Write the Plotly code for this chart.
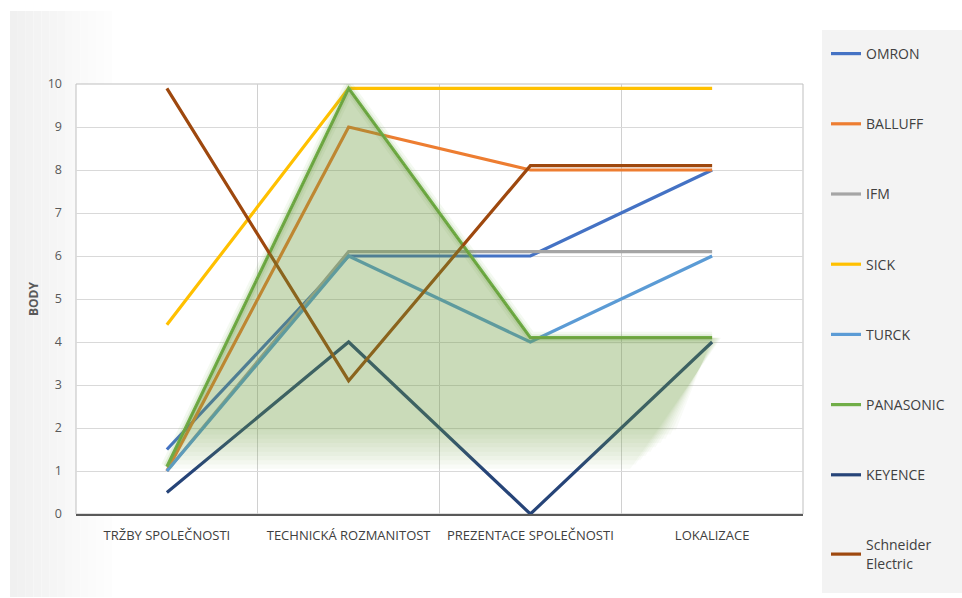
import plotly.graph_objects as go

# ---------------- data ----------------
categories = ["TRŽBY SPOLEČNOSTI", "TECHNICKÁ ROZMANITOST", "PREZENTACE SPOLEČNOSTI", "LOKALIZACE"]
omron = [1.5, 6, 6, 8]
balluff = [1, 9, 8, 8]
ifm = [1, 6.1, 6.1, 6.1]
sick = [4.4, 9.9, 9.9, 9.9]
turck = [1, 6, 4, 6]
panasonic = [1.1, 9.9, 4.1, 4.1]
keyence = [0.5, 4, 0, 4]
schneider = [9.9, 3.1, 8.1, 8.1]
series_names = ["OMRON", "BALLUFF", "IFM", "SICK", "TURCK", "PANASONIC", "KEYENCE", "Schneider<br>Electric"]
series_values = [omron, balluff, ifm, sick, turck, panasonic, keyence, schneider]
series_colors = ["#4472C4", "#ED7D31", "#A5A5A5", "#FFC000", "#5B9BD5", "#70AD47", "#264478", "#9E480E"]
y_ticks = list(range(0, 11))

xpos = list(range(len(categories)))

# ---------------- geometry helpers (layout only) ----------------
W, H = 962, 598
PL, PR, PT, PB = 76, 803, 84, 514


def px_x(px):
    return (px - PL) / (PR - PL)


def px_y(py):
    return (PB - py) / (PB - PT)


fig = go.Figure()

# lines
for name, vals, col in zip(series_names, series_values, series_colors):
    if name == "PANASONIC":
        for w, a in [(12, 0.08), (7, 0.14)]:
            fig.add_trace(go.Scatter(x=xpos, y=vals, mode="lines",
                                     line=dict(color=f"rgba(112,173,71,{a})", width=w),
                                     showlegend=False, hoverinfo="skip"))
    fig.add_trace(go.Scatter(x=xpos, y=vals, mode="lines", name=name,
                             legendgroup=name,
                             line=dict(color=col, width=3.2)))

# soft green area under the PANASONIC line (soft-edge glow effect)
N = 10
p = panasonic
for k in range(N):
    s = k / (N - 1)
    floor = 1.95 - 0.9 * s
    right_bottom = 2.8 - 0.25 * s
    right_top = xpos[-1] + 0.05 * s
    t = (floor - p[0]) / (p[1] - p[0])
    xs = [t] + xpos[1:-1] + [right_top, right_bottom, t]
    ys = [floor] + p[1:-1] + [p[-1], floor, floor]
    fig.add_trace(go.Scatter(x=xs, y=ys, mode="lines", fill="toself",
                             fillcolor="rgba(112,173,71,0.045)",
                             line=dict(width=0, color="rgba(0,0,0,0)"),
                             showlegend=False, hoverinfo="skip"))

shapes = []
# left gray gradient of the chart panel
n = 14
x0, x1 = 10, 120
for i in range(n):
    g = int(240 + (255 - 240) * i / (n - 1))
    shapes.append(dict(type="rect", xref="paper", yref="paper", layer="below",
                       x0=px_x(x0 + (x1 - x0) * i / n), x1=px_x(x0 + (x1 - x0) * (i + 1) / n),
                       y0=px_y(597), y1=px_y(11),
                       fillcolor=f"rgb({g},{g},{g})", line=dict(width=0)))
# legend panel
shapes.append(dict(type="rect", xref="paper", yref="paper", layer="below",
                   x0=px_x(822), x1=px_x(962), y0=px_y(593), y1=px_y(30),
                   fillcolor="#f3f3f3", line=dict(width=0)))
# plot area white + border
shapes.append(dict(type="rect", xref="paper", yref="paper", layer="below",
                   x0=0, x1=1, y0=0, y1=1, fillcolor="white",
                   line=dict(color="#bfbfbf", width=1)))

fig.update_layout(
    width=W, height=H,
    margin=dict(l=PL, r=W - PR, t=PT, b=H - PB),
    paper_bgcolor="white",
    plot_bgcolor="rgba(0,0,0,0)",
    shapes=shapes,
    font=dict(family="Open Sans", size=12, color="#404040"),
    xaxis=dict(
        range=[-0.5, 3.5], tickmode="array", tickvals=xpos, ticktext=categories,
        showgrid=False, zeroline=False, showline=True, linecolor="#595959", linewidth=2,
        ticks="", ticklabelstandoff=8,
        tickfont=dict(size=13, color="#404040"),
        minor=dict(tickmode="array", tickvals=[-0.5, 0.5, 1.5, 2.5, 3.5], showgrid=True,
                   gridcolor="#d0d0d0", gridwidth=1, ticks=""),
    ),
    yaxis=dict(
        range=[0, 10], tickmode="array", tickvals=y_ticks,
        showgrid=True, gridcolor="#d9d9d9", gridwidth=1, zeroline=False,
        showline=False, ticks="", ticklabelstandoff=13,
        tickfont=dict(size=12.5, color="#595959"),
        title=dict(text="<b>BODY</b>", font=dict(size=12, color="#595959"), standoff=6),
    ),
    legend=dict(
        x=px_x(826), y=px_y(38), xanchor="left", yanchor="top",
        bgcolor="rgba(0,0,0,0)", borderwidth=0,
        font=dict(family="Open Sans", size=14, color="#404040"),
        tracegroupgap=49, traceorder="grouped", maxheight=580,
    ),
    hovermode=False,
)

fig.write_html("out.html")
